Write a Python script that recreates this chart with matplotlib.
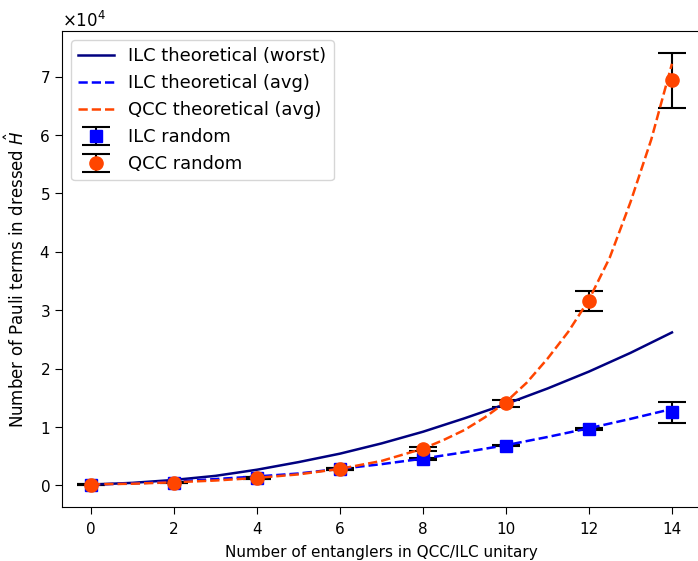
import matplotlib
matplotlib.use("Agg")
import matplotlib.pyplot as plt
import numpy as np

# Theoretical curves
x_ilc_th = [0, 1, 2, 3, 4, 5, 6, 7, 8, 9, 10, 11, 12, 13, 14]
ilc_worst = [150, 450, 950, 1650, 2700, 4000, 5450, 7200, 9200, 11500, 13950, 16600, 19500, 22700, 26200]
ilc_avg = [150, 350, 650, 1100, 1550, 2050, 2850, 3650, 4600, 5700, 6900, 8300, 9800, 11400, 13100]

x_qcc_th = [0, 1, 2, 3, 4, 5, 6, 7, 8, 8.5, 9, 9.5, 10, 10.5, 11, 11.5, 12, 12.5, 13, 13.5, 14]
qcc_avg = [200, 300, 550, 850, 1300, 1900, 2850, 4200, 6300, 7800, 9500, 11700, 14300,
           17600, 21700, 26300, 31800, 39000, 48500, 59200, 72200]

# Random samples with error bars
x_rand = [0, 2, 4, 6, 8, 10, 12, 14]
ilc_rand = [150, 500, 1260, 2850, 4560, 6830, 9730, 12530]
ilc_err = [80, 150, 150, 150, 150, 150, 150, 1790]
qcc_rand = [150, 500, 1260, 2850, 6200, 14060, 31570, 69400]
qcc_err = [80, 150, 150, 200, 340, 630, 1650, 4700]

fig = plt.figure(figsize=(6.98, 5.61), dpi=100)
ax = fig.add_axes([0.0888, 0.0968, 0.9155, 0.8479])

eb1 = ax.errorbar(x_rand, ilc_rand, yerr=ilc_err, fmt='s', color='blue', ecolor='black',
                  markersize=9, capsize=10, elinewidth=1.5, capthick=1.5, label='ILC random')
eb2 = ax.errorbar(x_rand, qcc_rand, yerr=qcc_err, fmt='o', color='orangered', ecolor='black',
                  markersize=9.5, capsize=10, elinewidth=1.5, capthick=1.5, label='QCC random')

ax.plot(x_ilc_th, ilc_worst, '-', color='navy', lw=1.8, label='ILC theoretical (worst)')
ax.plot(x_ilc_th, ilc_avg, '--', color='blue', lw=1.8, label='ILC theoretical (avg)')
ax.plot(x_qcc_th, qcc_avg, '--', color='orangered', lw=1.8, label='QCC theoretical (avg)')

ax.ticklabel_format(axis='y', style='sci', scilimits=(0, 0), useMathText=True)
ax.set_xticks([0, 2, 4, 6, 8, 10, 12, 14])
ax.tick_params(labelsize=11, length=5)
ax.tick_params(axis='x', pad=6)
ax.yaxis.get_offset_text().set_fontsize(12)
ax.set_xlabel('Number of entanglers in QCC/ILC unitary', fontsize=11, labelpad=6)
ax.set_ylabel(r'Number of Pauli terms in dressed $\hat{H}$', fontsize=12)
ax.yaxis.set_label_coords(-0.053, 0.479)

h, l = ax.get_legend_handles_labels()
ax.legend(h, l, loc='upper left', fontsize=12.9)

fig.savefig('out.png', dpi=100)
